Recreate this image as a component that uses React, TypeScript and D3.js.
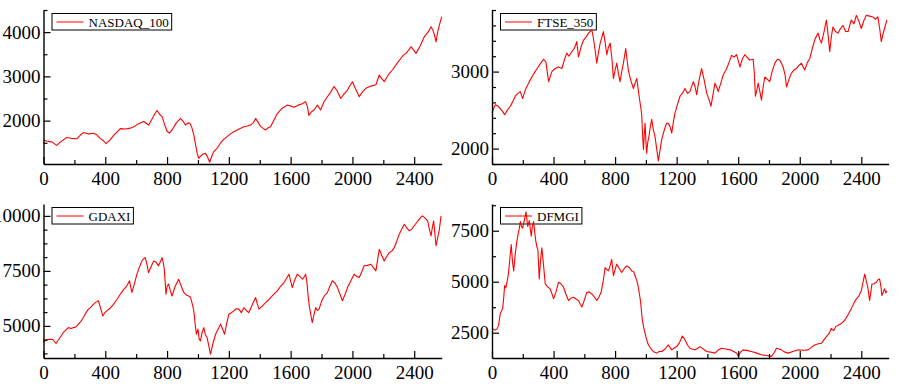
import React, { useEffect, useRef } from "react";
import * as d3 from "d3";

// [day, value]
const nasdaq100: [number, number][] = [
  [0, 1560], [20, 1540], [42, 1525], [60, 1510], [85, 1440], [110, 1520], [150, 1620], [180, 1600], [216, 1590], [240, 1680],
  [260, 1730], [290, 1700], [324, 1715], [345, 1680], [367, 1600], [390, 1540], [405, 1480], [430, 1560], [453, 1660], [475, 1740],
  [497, 1820], [530, 1810], [562, 1830], [585, 1860], [605, 1910], [630, 1950], [649, 1980], [665, 1940], [681, 1900], [700, 2020],
  [720, 2150], [735, 2230], [750, 2150], [768, 2090], [785, 1900], [800, 1760], [815, 1720], [832, 1790], [860, 1950], [887, 2050],
  [905, 1980], [919, 1900], [935, 1950], [947, 1940], [960, 1850], [973, 1680], [985, 1450], [995, 1260], [1005, 1150], [1016, 1190],
  [1030, 1240], [1049, 1260], [1062, 1180], [1076, 1060], [1090, 1200], [1102, 1300], [1125, 1380], [1145, 1490], [1165, 1570], [1189, 1640],
  [1210, 1700], [1232, 1750], [1260, 1800], [1297, 1860], [1320, 1880], [1340, 1900], [1360, 1960], [1373, 2050], [1390, 1960], [1405, 1870],
  [1420, 1830], [1438, 1790], [1455, 1840], [1470, 1860], [1490, 2000], [1514, 2160], [1545, 2280], [1578, 2350], [1600, 2330], [1621, 2300],
  [1650, 2350], [1675, 2380], [1697, 2430], [1710, 2300], [1718, 2120], [1735, 2200], [1751, 2240], [1773, 2350], [1794, 2240], [1815, 2420],
  [1838, 2540], [1860, 2650], [1881, 2770], [1900, 2680], [1924, 2500], [1945, 2600], [1968, 2690], [1985, 2800], [2000, 2880], [2020, 2720],
  [2044, 2540], [2065, 2650], [2087, 2730], [2120, 2780], [2152, 2810], [2174, 3030], [2190, 2950], [2206, 2880], [2235, 3050], [2260, 3150],
  [2290, 3300], [2314, 3410], [2330, 3480], [2347, 3520], [2365, 3600], [2380, 3670], [2395, 3600], [2412, 3520], [2440, 3700], [2466, 3900],
  [2490, 4000], [2509, 4120], [2520, 4050], [2531, 3940], [2541, 3780], [2552, 4000], [2563, 4160], [2578, 4350],
];

const ftse350: [number, number][] = [
  [0, 2460], [10, 2520], [22, 2570], [40, 2550], [54, 2520], [70, 2480], [82, 2440], [100, 2500], [119, 2550], [135, 2610],
  [151, 2680], [170, 2720], [184, 2740], [199, 2650], [216, 2760], [240, 2860], [259, 2930], [280, 3000], [303, 3070], [320, 3120],
  [335, 3160], [350, 3130], [368, 2870], [389, 3000], [410, 3040], [432, 3060], [454, 3040], [470, 3150], [486, 3240], [500, 3200],
  [519, 3260], [535, 3300], [551, 3390], [562, 3190], [580, 3330], [595, 3410], [612, 3450], [627, 3500], [649, 3540], [660, 3420],
  [670, 3280], [681, 3110], [692, 3250], [703, 3370], [724, 3520], [735, 3380], [746, 3220], [757, 3320], [768, 3370], [780, 3150],
  [789, 2910], [800, 3020], [811, 3110], [821, 2980], [832, 2870], [845, 3020], [854, 3110], [869, 3300], [878, 3150], [886, 3020],
  [900, 2900], [919, 2780], [930, 2850], [941, 2910], [956, 2680], [965, 2560], [973, 2440], [978, 2200], [984, 1990], [990, 2200],
  [995, 2330], [1000, 2100], [1005, 1940], [1012, 2080], [1020, 2160], [1030, 2300], [1038, 2380], [1048, 2250], [1059, 2160], [1070, 2000],
  [1081, 1840], [1092, 1980], [1103, 2120], [1114, 2200], [1124, 2270], [1135, 2330], [1146, 2330], [1158, 2280], [1168, 2200], [1179, 2350],
  [1189, 2460], [1205, 2570], [1222, 2680], [1238, 2720], [1254, 2780], [1270, 2720], [1286, 2740], [1308, 2870], [1320, 2800], [1330, 2700],
  [1345, 2880], [1362, 3040], [1378, 2900], [1395, 2720], [1410, 2640], [1423, 2550], [1436, 2700], [1449, 2850], [1460, 2800], [1470, 2740],
  [1487, 2850], [1503, 2960], [1520, 3020], [1535, 3090], [1557, 3210], [1575, 3190], [1589, 3220], [1600, 3150], [1611, 3060], [1628, 3170],
  [1643, 3220], [1660, 3180], [1676, 3150], [1697, 3160], [1704, 3000], [1712, 2680], [1720, 2750], [1730, 2850], [1740, 2750], [1751, 2630],
  [1762, 2800], [1773, 2930], [1790, 2900], [1805, 2870], [1820, 3000], [1838, 3110], [1855, 3160], [1870, 3150], [1881, 3110], [1892, 3060],
  [1905, 2950], [1914, 2800], [1930, 2900], [1946, 2980], [1962, 3020], [1978, 3040], [1995, 3080], [2011, 3110], [2022, 3060], [2032, 3020],
  [2050, 3120], [2065, 3170], [2080, 3290], [2097, 3410], [2108, 3460], [2119, 3500], [2130, 3420], [2141, 3370], [2158, 3520], [2173, 3670],
  [2184, 3480], [2195, 3260], [2205, 3450], [2216, 3580], [2232, 3520], [2249, 3500], [2265, 3560], [2281, 3600], [2298, 3520], [2314, 3520],
  [2325, 3600], [2335, 3670], [2352, 3620], [2368, 3730], [2385, 3650], [2400, 3560], [2416, 3660], [2432, 3730], [2455, 3720], [2476, 3710],
  [2492, 3680], [2508, 3710], [2520, 3550], [2530, 3390], [2540, 3480], [2551, 3560], [2566, 3670],
];

const gdaxi: [number, number][] = [
  [0, 4250], [20, 4380], [42, 4390], [60, 4380], [81, 4200], [105, 4450], [129, 4700], [145, 4820], [161, 4920], [178, 4880],
  [194, 4920], [210, 4950], [226, 5080], [242, 5200], [258, 5380], [275, 5600], [291, 5760], [307, 5850], [323, 5980], [340, 6080],
  [356, 6140], [370, 5800], [384, 5450], [397, 5600], [410, 5680], [430, 5800], [453, 5980], [475, 6200], [497, 6440], [518, 6650],
  [540, 6820], [557, 7050], [572, 6520], [588, 6900], [605, 7350], [620, 7650], [637, 7950], [648, 8050], [659, 8100], [670, 7800],
  [680, 7420], [697, 7700], [713, 7950], [728, 7900], [745, 7730], [756, 7900], [767, 8100], [775, 7900], [782, 7580], [793, 6440],
  [800, 6800], [810, 6900], [821, 6600], [832, 6360], [853, 6800], [875, 7120], [892, 6800], [908, 6520], [925, 6400], [940, 6360],
  [952, 6300], [961, 6060], [970, 5800], [976, 5530], [983, 5000], [990, 4620], [1000, 4850], [1008, 4400], [1016, 4320], [1027, 4700],
  [1038, 4920], [1048, 4600], [1059, 4470], [1070, 4100], [1081, 3710], [1097, 4200], [1114, 4620], [1130, 4850], [1146, 5080], [1160, 4850],
  [1172, 4620], [1186, 5100], [1200, 5530], [1216, 5600], [1232, 5680], [1248, 5780], [1265, 5760], [1281, 5600], [1297, 5830], [1313, 5700],
  [1329, 5600], [1351, 5950], [1373, 6290], [1384, 6000], [1395, 5760], [1416, 5900], [1438, 6060], [1460, 6200], [1481, 6360], [1497, 6480],
  [1514, 6590], [1535, 6800], [1557, 6970], [1573, 7150], [1589, 7350], [1600, 7050], [1611, 6740], [1627, 7100], [1643, 7350], [1660, 7250],
  [1676, 7120], [1690, 7250], [1697, 7350], [1705, 7000], [1712, 6440], [1721, 5900], [1730, 5530], [1740, 5150], [1751, 5500], [1762, 5830],
  [1773, 5700], [1784, 5760], [1795, 6000], [1806, 6210], [1822, 6400], [1838, 6510], [1854, 6800], [1870, 7050], [1887, 6950], [1903, 6740],
  [1919, 6450], [1935, 6140], [1951, 6400], [1968, 6740], [1990, 7050], [2011, 7350], [2027, 7250], [2044, 7200], [2060, 7450], [2076, 7730],
  [2098, 7750], [2120, 7800], [2136, 7650], [2152, 7500], [2163, 8000], [2174, 8480], [2190, 8200], [2206, 7950], [2222, 8150], [2238, 8330],
  [2255, 8400], [2271, 8560], [2287, 8850], [2303, 9170], [2320, 9400], [2336, 9620], [2352, 9450], [2368, 9320], [2384, 9400], [2400, 9550],
  [2416, 9700], [2433, 9850], [2444, 9950], [2455, 10000], [2471, 9900], [2487, 9770], [2498, 9400], [2509, 9090], [2518, 9500], [2526, 9770],
  [2534, 9200], [2541, 8640], [2552, 9000], [2563, 9390], [2574, 10000],
];

const dfmgi: [number, number][] = [
  [0, 2710], [12, 2650], [22, 2630], [33, 2700], [43, 2870], [54, 3440], [69, 3680], [76, 4200], [82, 4810], [90, 4700],
  [97, 4970], [105, 5300], [112, 5770], [118, 6300], [125, 6820], [133, 6000], [141, 5530], [151, 6340], [160, 6900], [169, 7310],
  [177, 7600], [184, 7950], [192, 7700], [199, 7630], [210, 8000], [221, 8430], [232, 7710], [242, 8000], [255, 7230], [262, 7700],
  [270, 7950], [278, 7400], [285, 6980], [292, 6700], [298, 6580], [303, 5800], [307, 5130], [315, 6000], [324, 6660], [335, 5800],
  [346, 4890], [362, 4750], [378, 4650], [390, 4400], [400, 4160], [416, 4500], [432, 4970], [448, 4900], [465, 4730], [480, 4400],
  [497, 4080], [514, 4200], [530, 4240], [546, 4150], [562, 4080], [574, 3900], [584, 3760], [600, 4100], [616, 4480], [632, 4500],
  [649, 4400], [665, 4250], [681, 4080], [695, 4250], [709, 4480], [722, 5000], [735, 5690], [746, 5600], [757, 5530], [768, 5800],
  [778, 6100], [789, 5290], [800, 5600], [811, 5860], [827, 5650], [843, 5450], [860, 5650], [876, 5770], [892, 5700], [908, 5530],
  [920, 5500], [930, 5290], [941, 5050], [951, 4730], [960, 4300], [966, 4000], [972, 3500], [977, 3110], [986, 2750], [995, 2470],
  [1004, 2200], [1012, 1980], [1025, 1800], [1038, 1660], [1054, 1550], [1070, 1500], [1086, 1580], [1103, 1580], [1125, 1700], [1146, 1900],
  [1157, 1780], [1168, 1660], [1184, 1750], [1200, 1820], [1218, 2000], [1237, 2340], [1250, 2200], [1265, 1980], [1275, 1850], [1286, 1740],
  [1300, 1700], [1319, 1660], [1335, 1720], [1351, 1820], [1373, 1700], [1395, 1580], [1420, 1550], [1449, 1500], [1470, 1650], [1492, 1740],
  [1520, 1700], [1546, 1660], [1570, 1580], [1589, 1500], [1600, 1340], [1615, 1550], [1632, 1660], [1660, 1620], [1686, 1580], [1720, 1500],
  [1751, 1420], [1785, 1380], [1816, 1340], [1832, 1500], [1849, 1740], [1865, 1700], [1881, 1660], [1900, 1560], [1924, 1500], [1955, 1580],
  [1989, 1660], [2020, 1640], [2054, 1660], [2075, 1780], [2097, 1900], [2120, 1960], [2141, 1980], [2157, 2150], [2173, 2310], [2190, 2450],
  [2205, 2710], [2220, 2600], [2235, 2800], [2249, 2870], [2270, 2950], [2292, 3110], [2315, 3400], [2335, 3680], [2352, 3950], [2368, 4160],
  [2384, 4300], [2400, 4560], [2412, 5000], [2422, 5370], [2432, 5050], [2443, 4700], [2454, 4080], [2462, 4500], [2469, 4890], [2483, 4900],
  [2497, 4970], [2508, 5100], [2519, 5130], [2527, 4800], [2534, 4320], [2543, 4500], [2551, 4650], [2559, 4450], [2566, 4560],
];

const xTicksMajor = [0, 400, 800, 1200, 1600, 2000, 2400];
const xMax = 2578;

const panels = [
  { name: "NASDAQ_100", data: nasdaq100, left: 43.5, right: 441.7, top: 10, bottom: 164, yDomain: [1020, 4500], major: 1000, minor: 500 },
  { name: "FTSE_350", data: ftse350, left: 492, right: 888.7, top: 10, bottom: 164, yDomain: [1800, 3800], major: 1000, minor: 200 },
  { name: "GDAXI", data: gdaxi, left: 43.5, right: 441.7, top: 204, bottom: 358, yDomain: [3540, 10540], major: 2500, minor: 625 },
  { name: "DFMGI", data: dfmgi, left: 492, right: 888.7, top: 204, bottom: 358, yDomain: [1260, 8810], major: 2500, minor: 1250 },
];

const FONT = "'Liberation Serif', 'Times New Roman', serif";

const App = () => {
  const ref = useRef<SVGSVGElement>(null);

  useEffect(() => {
    const svg = d3.select(ref.current);
    svg.selectAll("*").remove();

    panels.forEach((p) => {
      const x = d3.scaleLinear().domain([0, xMax]).range([p.left, p.right]);
      const y = d3.scaleLinear().domain(p.yDomain).range([p.bottom, p.top]);
      const g = svg.append("g");

      // legend (under the line, no fill)
      const lx = p.left + 8.5;
      const ly = p.top + 3.5;
      const lg = g.append("g");
      const txt = lg.append("text")
        .attr("x", lx + 36.5)
        .attr("y", ly + 13.5)
        .attr("font-family", FONT)
        .attr("font-size", "13px")
        .attr("fill", "#000")
        .text(p.name);
      const tw = (txt.node() as SVGTextElement).getComputedTextLength();
      lg.insert("rect", "text")
        .attr("x", lx)
        .attr("y", ly)
        .attr("width", 36.5 + tw + 3)
        .attr("height", 16.5)
        .attr("fill", "none")
        .attr("stroke", "#000")
        .attr("stroke-width", 1);
      lg.append("line")
        .attr("x1", lx + 4.5).attr("x2", lx + 31.5)
        .attr("y1", ly + 8.5).attr("y2", ly + 8.5)
        .attr("stroke", "#ff0000").attr("stroke-width", 1);

      // data
      const line = d3.line<[number, number]>().x((d) => x(d[0])).y((d) => y(d[1]));
      g.append("path")
        .datum(p.data)
        .attr("d", line)
        .attr("fill", "none")
        .attr("stroke", "#ff0000")
        .attr("stroke-width", 1.1)
        .attr("stroke-linejoin", "round");

      // minor ticks
      const xMinor = d3.range(0, xMax, 200).filter((v) => v % 400 !== 0);
      g.append("g")
        .attr("transform", `translate(0,${p.bottom})`)
        .call(d3.axisBottom(x).tickValues(xMinor).tickSize(-4).tickSizeOuter(0).tickFormat(() => ""))
        .call((s) => s.select(".domain").remove());
      const [y0, y1] = p.yDomain;
      const yMinor = d3.range(Math.ceil(y0 / p.minor) * p.minor, y1 + 1, p.minor).filter((v) => v % p.major !== 0);
      g.append("g")
        .attr("transform", `translate(${p.left},0)`)
        .call(d3.axisLeft(y).tickValues(yMinor).tickSize(-4).tickSizeOuter(0).tickFormat(() => ""))
        .call((s) => s.select(".domain").remove());

      // major axes
      const xAxis = g.append("g")
        .attr("transform", `translate(0,${p.bottom})`)
        .call(d3.axisBottom(x).tickValues(xTicksMajor).tickSize(-7).tickSizeOuter(0).tickPadding(7.5).tickFormat(d3.format("d")));
      const yMajor = d3.range(Math.ceil(y0 / p.major) * p.major, y1 + 1, p.major);
      const yAxis = g.append("g")
        .attr("transform", `translate(${p.left},0)`)
        .call(d3.axisLeft(y).tickValues(yMajor).tickSize(-7).tickSizeOuter(0).tickPadding(3).tickFormat(d3.format("d")));

      [xAxis, yAxis].forEach((a) => {
        a.attr("font-family", FONT).attr("font-size", 19);
        a.selectAll("text").attr("fill", "#000");
        a.select(".domain").attr("stroke-width", 1.4);
      });
      g.selectAll(".tick line").attr("stroke", "#000").attr("stroke-width", 1.2);
    });
  }, []);

  return (
    <svg
      ref={ref}
      width={912}
      height={388}
      style={{ position: "absolute", left: 0, top: 0, background: "#fff" }}
    />
  );
};

export default App;
